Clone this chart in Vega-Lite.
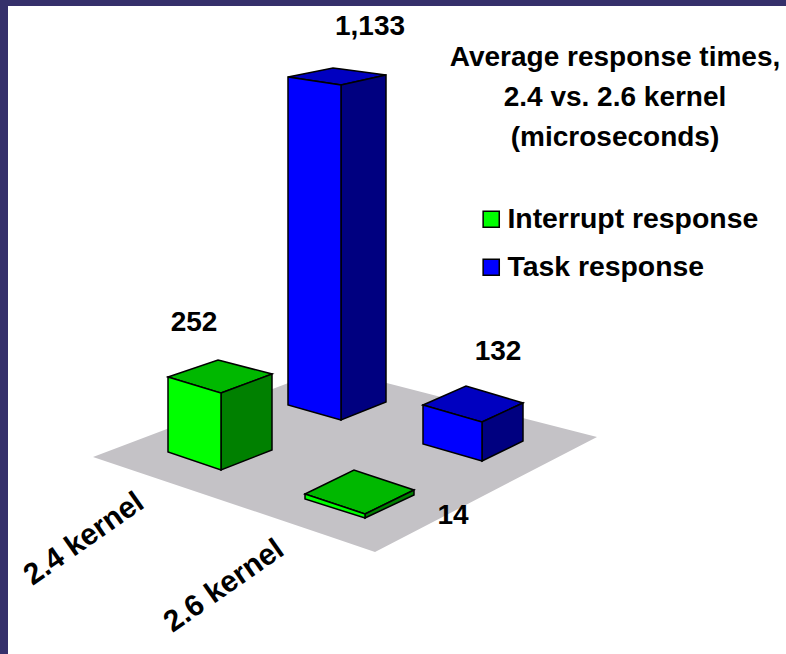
{
"$schema":"https://vega.github.io/schema/vega-lite/v6.json",
"width":778,"height":648,
"padding":{"left":8,"top":6,"right":0,"bottom":0},
"autosize":{"type":"none"},
"background":"#35306b",
"view":{"fill":"#ffffff","stroke":null},
"config":{"font":"Liberation Sans"},
"title":{"text":["Average response times,","2.4 vs. 2.6 kernel","(microseconds)"],"anchor":"start","frame":"group","align":"center","baseline":"top","dx":607,"dy":150,"fontSize":28,"fontWeight":"bold","color":"#000000","lineHeight":40,"font":"Liberation Sans"},
"datasets":{
"floor":[
{"across":93,"upper":457,"lower":457},
{"across":328,"upper":368,"lower":536},
{"across":375,"upper":380,"lower":552},
{"across":597,"upper":437,"lower":437}],
"faces":[
{"bar":"2.6 Task","series":"Task response","kernel":"2.6 kernel","value":1133,"face":"front","across":288,"upper":77,"lower":405},
{"bar":"2.6 Task","series":"Task response","kernel":"2.6 kernel","value":1133,"face":"front","across":341,"upper":85,"lower":420},
{"bar":"2.6 Task","series":"Task response","kernel":"2.6 kernel","value":1133,"face":"side","across":341,"upper":85,"lower":420},
{"bar":"2.6 Task","series":"Task response","kernel":"2.6 kernel","value":1133,"face":"side","across":386,"upper":75,"lower":402},
{"bar":"2.6 Task","series":"Task response","kernel":"2.6 kernel","value":1133,"face":"top","across":288,"upper":77,"lower":77},
{"bar":"2.6 Task","series":"Task response","kernel":"2.6 kernel","value":1133,"face":"top","across":333,"upper":68,"lower":83.8},
{"bar":"2.6 Task","series":"Task response","kernel":"2.6 kernel","value":1133,"face":"top","across":341,"upper":69.1,"lower":85},
{"bar":"2.6 Task","series":"Task response","kernel":"2.6 kernel","value":1133,"face":"top","across":386,"upper":75,"lower":75},
{"bar":"2.4 Interrupt","series":"Interrupt response","kernel":"2.4 kernel","value":252,"face":"front","across":168,"upper":377,"lower":452},
{"bar":"2.4 Interrupt","series":"Interrupt response","kernel":"2.4 kernel","value":252,"face":"front","across":221,"upper":393,"lower":470},
{"bar":"2.4 Interrupt","series":"Interrupt response","kernel":"2.4 kernel","value":252,"face":"side","across":221,"upper":393,"lower":470},
{"bar":"2.4 Interrupt","series":"Interrupt response","kernel":"2.4 kernel","value":252,"face":"side","across":272,"upper":374,"lower":450},
{"bar":"2.4 Interrupt","series":"Interrupt response","kernel":"2.4 kernel","value":252,"face":"top","across":168,"upper":377,"lower":377},
{"bar":"2.4 Interrupt","series":"Interrupt response","kernel":"2.4 kernel","value":252,"face":"top","across":218,"upper":360,"lower":392.1},
{"bar":"2.4 Interrupt","series":"Interrupt response","kernel":"2.4 kernel","value":252,"face":"top","across":221,"upper":360.8,"lower":393},
{"bar":"2.4 Interrupt","series":"Interrupt response","kernel":"2.4 kernel","value":252,"face":"top","across":272,"upper":374,"lower":374},
{"bar":"2.4 Task","series":"Task response","kernel":"2.4 kernel","value":132,"face":"front","across":423,"upper":405,"lower":444},
{"bar":"2.4 Task","series":"Task response","kernel":"2.4 kernel","value":132,"face":"front","across":482,"upper":422,"lower":461},
{"bar":"2.4 Task","series":"Task response","kernel":"2.4 kernel","value":132,"face":"side","across":482,"upper":422,"lower":461},
{"bar":"2.4 Task","series":"Task response","kernel":"2.4 kernel","value":132,"face":"side","across":523,"upper":403,"lower":441},
{"bar":"2.4 Task","series":"Task response","kernel":"2.4 kernel","value":132,"face":"top","across":423,"upper":405,"lower":405},
{"bar":"2.4 Task","series":"Task response","kernel":"2.4 kernel","value":132,"face":"top","across":466,"upper":386,"lower":417.4},
{"bar":"2.4 Task","series":"Task response","kernel":"2.4 kernel","value":132,"face":"top","across":482,"upper":390.8,"lower":422},
{"bar":"2.4 Task","series":"Task response","kernel":"2.4 kernel","value":132,"face":"top","across":523,"upper":403,"lower":403},
{"bar":"2.6 Interrupt","series":"Interrupt response","kernel":"2.6 kernel","value":14,"face":"front","across":305,"upper":494,"lower":499},
{"bar":"2.6 Interrupt","series":"Interrupt response","kernel":"2.6 kernel","value":14,"face":"front","across":365,"upper":514,"lower":518},
{"bar":"2.6 Interrupt","series":"Interrupt response","kernel":"2.6 kernel","value":14,"face":"side","across":365,"upper":514,"lower":518},
{"bar":"2.6 Interrupt","series":"Interrupt response","kernel":"2.6 kernel","value":14,"face":"side","across":414,"upper":490,"lower":495},
{"bar":"2.6 Interrupt","series":"Interrupt response","kernel":"2.6 kernel","value":14,"face":"top","across":305,"upper":494,"lower":494},
{"bar":"2.6 Interrupt","series":"Interrupt response","kernel":"2.6 kernel","value":14,"face":"top","across":354,"upper":470,"lower":510.3},
{"bar":"2.6 Interrupt","series":"Interrupt response","kernel":"2.6 kernel","value":14,"face":"top","across":365,"upper":473.7,"lower":514},
{"bar":"2.6 Interrupt","series":"Interrupt response","kernel":"2.6 kernel","value":14,"face":"top","across":414,"upper":490,"lower":490}],
"values":[
{"label":"1,133","across":370,"upper":27},
{"label":"252","across":194,"upper":323},
{"label":"132","across":498,"upper":352},
{"label":"14","across":453,"upper":516}],
"kernels":[
{"label":"2.4 kernel","across":84,"upper":539},
{"label":"2.6 kernel","across":224,"upper":586}]
},
"encoding":{
"x":{"field":"across","type":"quantitative","scale":{"domain":[8,786],"nice":false,"zero":false},"axis":null},
"y":{"field":"upper","type":"quantitative","scale":{"domain":[654,6],"nice":false,"zero":false},"axis":null,"stack":null}
},
"layer":[
{"data":{"name":"floor"},"mark":{"type":"area","color":"#c4c2c6"},"encoding":{"y2":{"field":"lower"}}},
{"data":{"name":"faces"},"transform":[{"filter":"datum.face === 'top'"}],
 "mark":{"type":"area","stroke":"#000000","strokeWidth":1.5},
 "encoding":{"y2":{"field":"lower"},"detail":{"field":"bar"},
  "color":{"field":"series","type":"nominal","legend":null,"scale":{"domain":["Interrupt response","Task response"],"range":["#00b800","#0000c0"]}}}},
{"data":{"name":"faces"},"transform":[{"filter":"datum.face === 'side'"}],
 "mark":{"type":"area","stroke":"#000000","strokeWidth":1.5},
 "encoding":{"y2":{"field":"lower"},"detail":{"field":"bar"},
  "color":{"field":"series","type":"nominal","legend":null,"scale":{"domain":["Interrupt response","Task response"],"range":["#008000","#000080"]}}}},
{"data":{"name":"faces"},"transform":[{"filter":"datum.face === 'front'"}],
 "mark":{"type":"area","stroke":"#000000","strokeWidth":1.5},
 "encoding":{"y2":{"field":"lower"},"detail":{"field":"bar"},
  "color":{"field":"series","type":"nominal","scale":{"domain":["Interrupt response","Task response"],"range":["#00ff00","#0000ff"]},
   "legend":{"title":null,"orient":"none","legendX":469,"legendY":199,"symbolType":"square","symbolSize":260,"symbolStrokeColor":"#000000","symbolStrokeWidth":1.5,"symbolOpacity":1,"labelFontSize":28.4,"labelFontWeight":"bold","labelColor":"#000000","labelFont":"Liberation Sans","rowPadding":19,"labelOffset":2,"labelLimit":320}}}},
{"data":{"name":"values"},"mark":{"type":"text","fontSize":28,"fontWeight":"bold","color":"#000000","align":"center","baseline":"middle"},"encoding":{"text":{"field":"label"}}},
{"data":{"name":"kernels"},"mark":{"type":"text","fontSize":30,"fontWeight":"bold","color":"#000000","align":"center","baseline":"middle","angle":325},"encoding":{"text":{"field":"label"}}}
],
"resolve":{"scale":{"color":"independent"}}
}
